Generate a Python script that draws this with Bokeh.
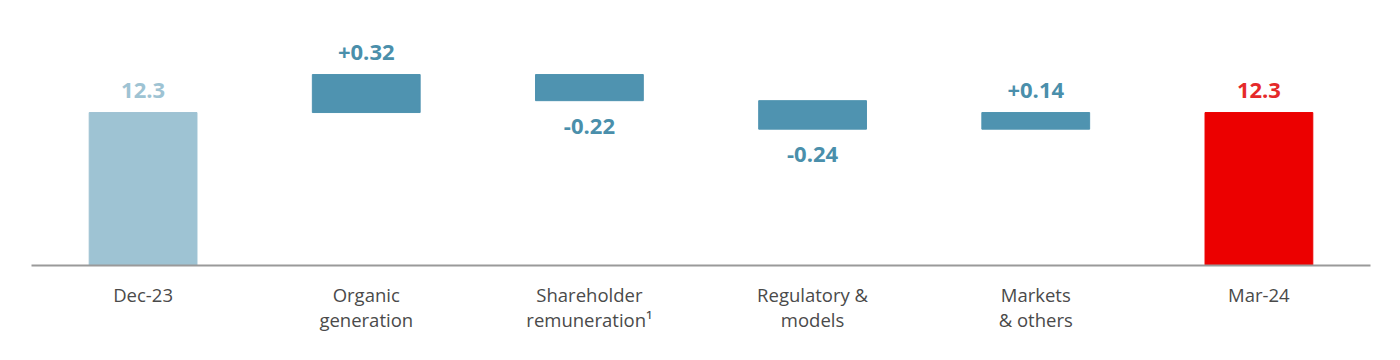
from bokeh.plotting import figure
from bokeh.models import Range1d, ColumnDataSource, FixedTicker
from bokeh.core.properties import value
from bokeh.embed import file_html
from bokeh.resources import INLINE

categories = ["Dec-23", "Organic\ngeneration", "Shareholder\nremuneration\u00b9",
              "Regulatory &\nmodels", "Markets\n& others", "Mar-24"]
values = [12.3, 0.32, -0.22, -0.24, 0.14, 12.3]
is_total = [True, False, False, False, False, True]
value_labels = ["12.3", "+0.32", "-0.22", "-0.24", "+0.14", "12.3"]
bar_colors = ["#9EC3D3", "#4F93B0", "#4F93B0", "#4F93B0", "#4F93B0", "#EC0000"]
label_colors = ["#9EC3D3", "#4A8FAB", "#4A8FAB", "#4A8FAB", "#4A8FAB", "#E52A2A"]

xs = [i + 0.5 for i in range(len(categories))]
bottoms, tops = [], []
running = 0.0
for v, t in zip(values, is_total):
    if t:
        running = v
        bottoms.append(0.0)
        tops.append(v)
    else:
        b = running
        running = running + v
        bottoms.append(min(b, running))
        tops.append(max(b, running))

up_x, up_y, up_t, up_c = [], [], [], []
dn_x, dn_y, dn_t, dn_c = [], [], [], []
for x, v, t, lab, c, b, tp in zip(xs, values, is_total, value_labels, label_colors, bottoms, tops):
    if t or v >= 0:
        up_x.append(x); up_y.append(tp); up_t.append(lab); up_c.append(c)
    else:
        dn_x.append(x); dn_y.append(b); dn_t.append(lab); dn_c.append(c)

p = figure(width=1384, height=344, output_backend="svg", toolbar_location=None,
           x_range=Range1d(0, 6), y_range=Range1d(11.012, 13.075),
           min_border_left=31, min_border_right=14, min_border_top=20, min_border_bottom=79)
p.outline_line_color = None
p.grid.grid_line_color = None
p.yaxis.visible = False

src = ColumnDataSource(dict(x=xs, bottom=bottoms, top=tops, color=bar_colors))
p.vbar(x="x", bottom="bottom", top="top", width=0.483, color="color", source=src)

up = ColumnDataSource(dict(x=up_x, y=up_y, t=up_t, c=up_c))
p.text(x="x", y="y", text="t", text_color="c", source=up, text_align="center",
       text_baseline="bottom", y_offset=-15, text_font=value("Open Sans"),
       text_font_size="22px", text_font_style="bold")
dn = ColumnDataSource(dict(x=dn_x, y=dn_y, t=dn_t, c=dn_c))
p.text(x="x", y="y", text="t", text_color="c", source=dn, text_align="center",
       text_baseline="top", y_offset=18, text_font=value("Open Sans"),
       text_font_size="22px", text_font_style="bold")

ax = p.xaxis[0]
ax.ticker = FixedTicker(ticks=xs)
ax.major_label_overrides = {x: c for x, c in zip(xs, categories)}
ax.major_tick_line_color = None
ax.minor_tick_line_color = None
ax.axis_line_color = "#9a9a9a"
ax.axis_line_width = 2
ax.major_label_standoff = 10
ax.major_label_text_font = "Open Sans"
ax.major_label_text_font_size = "18.5px"
ax.major_label_text_color = "#4a4a4a"
ax.major_label_text_line_height = 1.0

open("out.html", "w").write(file_html(p, INLINE))
